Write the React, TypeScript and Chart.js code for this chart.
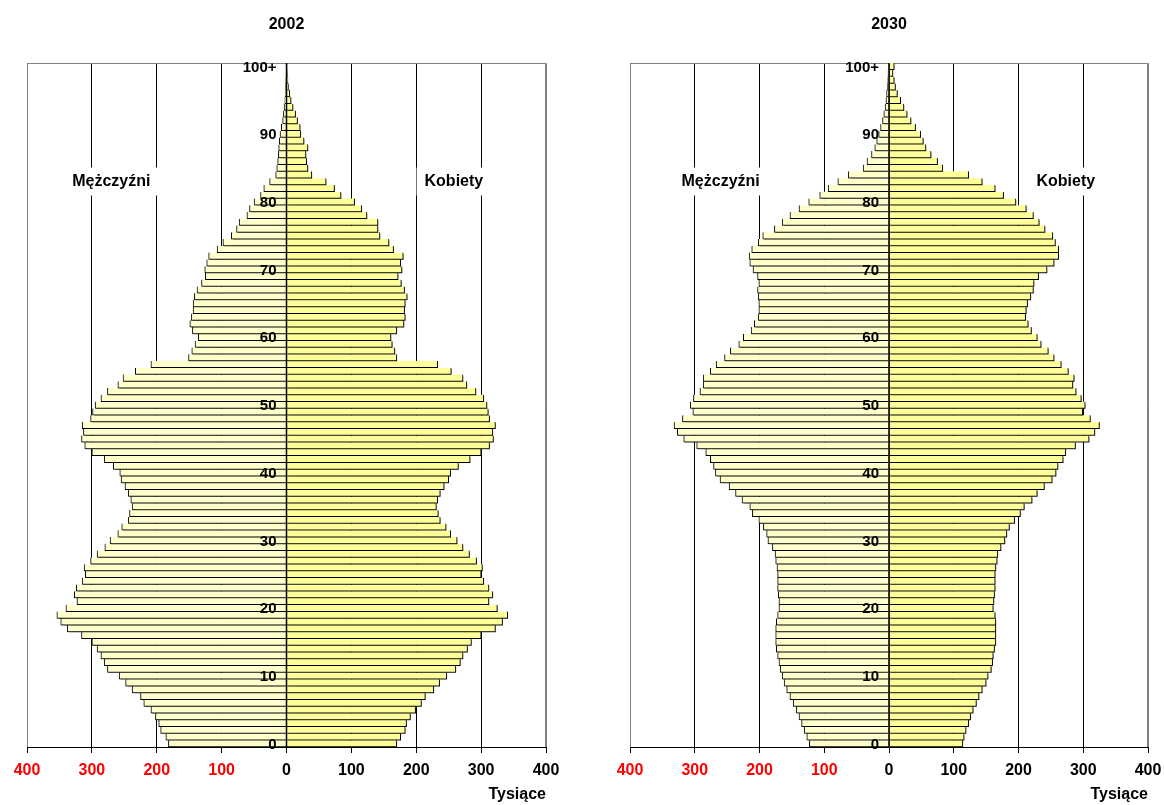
import React, { useEffect, useRef } from 'react';
import { Chart, registerables } from 'chart.js';

Chart.register(...registerables);

const FONT = '"Liberation Sans", Arial, Helvetica, sans-serif';

// Categories: age 0 .. 100+
const AGES: string[] = Array.from({ length: 101 }, (_, i) => (i === 100 ? '100+' : String(i)));
const AGE_TICKS = [0, 10, 20, 30, 40, 50, 60, 70, 80, 90, 100];
const AGE_TICK_LABELS = ['0', '10', '20', '30', '40', '50', '60', '70', '80', '90', '100+'];
const X_TICKS = [-400, -300, -200, -100, 0, 100, 200, 300, 400];

// 2002 (thousands), age 0..100+
const MALES_2002 = [
  182, 186, 194, 197, 202, 209, 220, 225, 238, 248,
  258, 276, 281, 286, 292, 300, 316, 338, 348, 354,
  340, 323, 327, 324, 315, 310, 312, 302, 292, 280,
  272, 260, 254, 244, 242, 238, 240, 244, 249, 255,
  257, 267, 281, 300, 311, 316, 313, 315, 302, 299,
  295, 286, 276, 260, 252, 233, 209, 151, 146, 141,
  136, 145, 149, 147, 144, 144, 142, 138, 131, 125,
  126, 123, 120, 107, 98, 85, 77, 73, 61, 57,
  50, 40, 35, 26, 16.7, 15, 13.6, 12.5, 12, 11,
  10, 8, 6, 4.7, 3.7, 2.6, 2, 1.5, 1, 0.7,
  0.5,
];
const FEMALES_2002 = [
  170, 176, 183, 185, 191, 199, 208, 214, 227, 236,
  247, 261, 268, 272, 279, 285, 300, 322, 333, 341,
  325, 312, 318, 312, 304, 300, 302, 293, 282, 272,
  263, 253, 246, 237, 234, 231, 233, 237, 243, 250,
  253, 265, 283, 300, 313, 319, 318, 322, 313, 311,
  309, 304, 292, 278, 272, 254, 233, 170, 167, 163,
  161, 170, 181, 183, 182, 183, 186, 182, 177, 172,
  178, 176, 180, 165, 158, 144, 141, 141, 124, 116,
  105, 84, 74, 61, 39, 33, 31, 30, 33, 27,
  22, 21, 17, 14, 10, 7, 5, 3, 2, 1.5,
  1,
];

// 2030 (thousands), age 0..100+
const MALES_2030 = [
  123, 127, 131, 135, 139, 143, 148, 153, 158, 162,
  165, 168, 170, 172, 174, 175, 175, 175, 174, 172,
  170, 170, 171, 172, 172, 172, 173, 175, 176, 180,
  187, 189, 194, 201, 211, 215, 227, 237, 247, 261,
  268, 271, 276, 283, 297, 317, 327, 332, 319, 303,
  307, 302, 292, 287, 287, 276, 267, 254, 245, 232,
  225, 213, 208, 202, 201, 201, 202, 203, 201, 203,
  210, 215, 216, 212, 202, 195, 177, 165, 153, 139,
  124, 107, 94, 79, 63, 40, 34, 27, 22, 19,
  16, 13, 10, 8, 6, 4.7, 3.7, 2.6, 2, 1.5,
  1,
];
const FEMALES_2030 = [
  114, 116, 119, 123, 126, 130, 135, 139, 144, 150,
  153, 158, 160, 161, 163, 165, 165, 165, 165, 164,
  161, 162, 163, 164, 164, 164, 165, 167, 168, 173,
  179, 182, 186, 194, 203, 209, 221, 229, 240, 252,
  258, 261, 269, 273, 288, 309, 318, 325, 311, 299,
  303, 297, 289, 284, 286, 277, 266, 255, 246, 235,
  229, 220, 215, 211, 212, 214, 219, 223, 224, 231,
  244, 255, 262, 262, 257, 253, 241, 232, 223, 212,
  196, 177, 164, 144, 123, 83, 75, 65, 57, 53,
  49, 41, 34, 28, 23, 18, 13, 10, 8, 6,
  8,
];

type SexLabel = { text: string; x: number; age: number };

function makePlugin(title: string, sexLabels: SexLabel[]) {
  return {
    id: 'pyramid',
    beforeDatasetsDraw(chart: any) {
      const { ctx, chartArea: a, scales } = chart;
      const x = scales.x;
      const y = scales.y;
      ctx.save();
      ctx.strokeStyle = '#808080';
      ctx.lineWidth = 1;
      ctx.beginPath();
      ctx.moveTo(Math.round(a.left) + 0.5, a.bottom);
      ctx.lineTo(Math.round(a.left) + 0.5, Math.round(a.top) + 0.5);
      ctx.lineTo(Math.round(a.right) - 0.5, Math.round(a.top) + 0.5);
      ctx.lineTo(Math.round(a.right) - 0.5, a.bottom);
      ctx.stroke();
      ctx.font = `bold 16px ${FONT}`;
      ctx.textBaseline = 'middle';
      ctx.textAlign = 'center';
      for (const s of sexLabels) {
        const px = x.getPixelForValue(s.x);
        const py = y.getPixelForValue(s.age);
        const w = ctx.measureText(s.text).width;
        ctx.fillStyle = '#ffffff';
        ctx.fillRect(px - w / 2 - 8, py - 14, w + 16, 28);
        ctx.fillStyle = '#000000';
        ctx.fillText(s.text, px, py);
      }
      ctx.restore();
      // drop shadow for the bars
      ctx.save();
      ctx.shadowColor = 'rgba(0,0,0,0.4)';
      ctx.shadowOffsetX = 1.5;
      ctx.shadowOffsetY = 1.5;
      ctx.shadowBlur = 0;
    },
    afterDatasetsDraw(chart: any) {
      const { ctx, chartArea: a, scales } = chart;
      ctx.restore();
      const x = scales.x;
      const y = scales.y;
      const zx = x.getPixelForValue(0);
      ctx.save();
      ctx.strokeStyle = '#000';
      ctx.lineWidth = 1.5;
      ctx.beginPath();
      ctx.moveTo(zx, a.top);
      ctx.lineTo(zx, a.bottom);
      ctx.stroke();
      ctx.font = `bold 15px ${FONT}`;
      ctx.fillStyle = '#000';
      ctx.textAlign = 'right';
      ctx.textBaseline = 'middle';
      AGE_TICKS.forEach((age, i) => {
        ctx.fillText(AGE_TICK_LABELS[i], zx - 10, y.getPixelForValue(age) + 1);
      });
      ctx.restore();
    },
    afterDraw(chart: any) {
      const { ctx, chartArea: a } = chart;
      ctx.save();
      ctx.fillStyle = '#000';
      ctx.font = `bold 16px ${FONT}`;
      ctx.textAlign = 'center';
      ctx.textBaseline = 'middle';
      ctx.fillText(title, (a.left + a.right) / 2, 25);
      ctx.textAlign = 'right';
      ctx.fillText('Tysiące', a.right, 795);
      ctx.restore();
    },
  };
}

type PyramidProps = {
  title: string;
  males: number[];
  females: number[];
  sexLabels: SexLabel[];
  padLeft: number;
  padRight: number;
  left: number;
};

function Pyramid({ title, males, females, sexLabels, padLeft, padRight, left }: PyramidProps) {
  const ref = useRef<HTMLCanvasElement | null>(null);
  useEffect(() => {
    if (!ref.current) return;
    const border = { top: 0, bottom: 1, left: 1, right: 1 };
    const chart = new Chart(ref.current, {
      type: 'bar',
      data: {
        labels: AGES,
        datasets: [
          {
            label: 'Mężczyźni',
            data: males.map((v) => -v),
            backgroundColor: '#FFFFCC',
            borderColor: '#000000',
            borderWidth: border as any,
            borderSkipped: 'start',
            barPercentage: 1,
            categoryPercentage: 1,
          },
          {
            label: 'Kobiety',
            data: females,
            backgroundColor: '#FFFF99',
            borderColor: '#000000',
            borderWidth: border as any,
            borderSkipped: 'start',
            barPercentage: 1,
            categoryPercentage: 1,
          },
        ],
      },
      options: {
        indexAxis: 'y',
        animation: false,
        responsive: false,
        maintainAspectRatio: false,
        events: [],
        layout: { padding: { left: padLeft, right: padRight, top: 63, bottom: 0 } },
        plugins: {
          legend: { display: false },
          tooltip: { enabled: false },
          title: { display: false },
        },
        scales: {
          x: {
            type: 'linear',
            min: -400,
            max: 400,
            stacked: true,
            afterFit: (s: any) => {
              s.height = 58;
            },
            afterBuildTicks: (s: any) => {
              s.ticks = X_TICKS.map((v) => ({ value: v }));
            },
            ticks: {
              callback: (v: any) => String(Math.abs(Number(v))),
              color: (c: any) => (c.tick && c.tick.value < 0 ? '#FF0000' : '#000000'),
              font: { family: FONT, size: 16, weight: 'bold' },
              padding: 8,
              maxRotation: 0,
              autoSkip: false,
            },
            grid: {
              color: (c: any) => (c.tick && Math.abs(c.tick.value) === 400 ? '#808080' : '#000000'),
              tickColor: '#000000',
              tickLength: 6,
              lineWidth: 1,
            },
            border: { color: '#000000', width: 1 },
          },
          y: {
            type: 'category',
            display: false,
            reverse: true,
            stacked: true,
            grid: { display: false },
          },
        },
      },
      plugins: [makePlugin(title, sexLabels)],
    } as any);
    return () => chart.destroy();
  }, [title, males, females, sexLabels, padLeft, padRight]);
  return (
    <canvas
      ref={ref}
      width={582}
      height={805}
      style={{ position: 'absolute', left, top: 0, width: 582, height: 805, display: 'block' }}
    />
  );
}

const LABELS_2002: SexLabel[] = [
  { text: 'Mężczyźni', x: -270, age: 83 },
  { text: 'Kobiety', x: 258, age: 83 },
];
const LABELS_2030: SexLabel[] = [
  { text: 'Mężczyźni', x: -260, age: 83 },
  { text: 'Kobiety', x: 273, age: 83 },
];

export default function App() {
  return (
    <div
      style={{
        position: 'absolute',
        left: 0,
        top: 0,
        width: 1164,
        height: 805,
        background: '#ffffff',
        overflow: 'hidden',
      }}
    >
      <Pyramid title="2002" males={MALES_2002} females={FEMALES_2002} sexLabels={LABELS_2002} padLeft={27} padRight={36} left={0} />
      <Pyramid title="2030" males={MALES_2030} females={FEMALES_2030} sexLabels={LABELS_2030} padLeft={30} padRight={34} left={600} />
    </div>
  );
}
